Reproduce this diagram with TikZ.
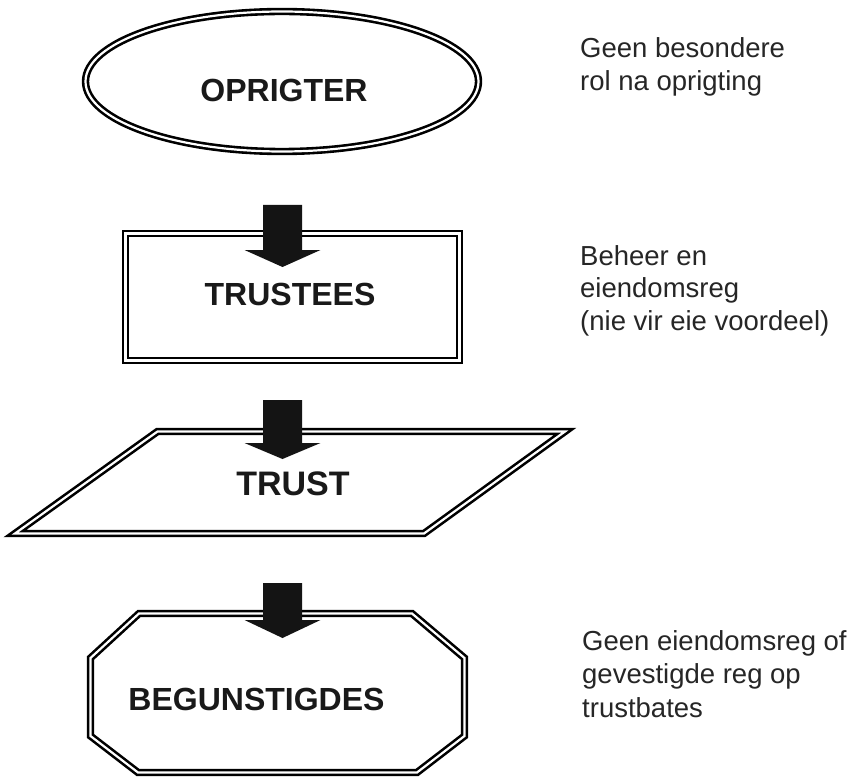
\documentclass[tikz,border=0pt]{standalone}
\usepackage{fontspec}
\setmainfont{Liberation Sans}
\begin{document}
\begin{tikzpicture}[x=1pt,y=-1pt,
  rim/.style={draw=black, line width=2.6pt, double=white, double distance=2.2pt, line join=miter},
  label/.style={font=\bfseries\fontsize{32}{38}\selectfont, text=black!90, inner sep=0pt, anchor=base},
  note/.style={font=\fontsize{27.5}{33}\selectfont, text=black!85, inner sep=0pt, anchor=base west},
  pics/blockarrow/.style n args={2}{code={
    \fill[black!92] (-19.5,0) -- (19.5,0) -- (19.5,#1) -- (38,#1) -- (0,#2)
      -- (-38,#1) -- (-19.5,#1) -- cycle;}}]
\useasboundingbox[fill=white] (0,0) rectangle (851,778);

% founder: ellipse
\draw[rim] (282,81.5) ellipse [x radius=196.5, y radius=70];
\node[label] (oprigter) at (284,102) {OPRIGTER};

% trustees: rectangle
\draw[rim] (125.5,233.5) rectangle (459.5,360.5);
\node[label] (trustees) at (290,305) {TRUSTEES};

% trust: parallelogram
\coordinate (pbl) at (15,533.5);
\coordinate (ptl) at (157.5,431.5);
\coordinate (ptr) at (565,431.5);
\coordinate (pbr) at (424,533.5);
\draw[rim] (pbl) -- (ptl) -- (ptr) -- (pbr) -- cycle;
\node[label, font=\bfseries\fontsize{34}{40}\selectfont] (trust) at (293,495) {TRUST};

% beneficiaries: octagon
\draw[rim] (139,613.5) -- (412,613.5) -- (464.5,658) -- (464.5,736) -- (417,772.5)
  -- (138,772.5) -- (90.5,736) -- (90.5,658) -- cycle;
\node[label] (begunstigdes) at (256.5,710) {BEGUNSTIGDES};

% block arrows between the levels
\coordinate (a1) at (282.5,205);
\coordinate (a2) at (282.5,400);
\coordinate (a3) at (282.5,583);
\pic at (a1) {blockarrow={45}{62}};
\pic at (a2) {blockarrow={43}{59}};
\pic at (a3) {blockarrow={37}{55}};

% side notes
\node[note] (n1a) at (580,57.5) {Geen besondere};
\node[note] (n1b) at (580,90.5) {rol na oprigting};
\node[note] (n2a) at (580,265.5) {Beheer en};
\node[note] (n2b) at (580,297.5) {eiendomsreg};
\node[note] (n2c) at (580,330) {(nie vir eie voordeel)};
\node[note] (n3a) at (582,650) {Geen eiendomsreg of};
\node[note] (n3b) at (582,683) {gevestigde reg op};
\node[note] (n3c) at (582,717) {trustbates};
\end{tikzpicture}
\end{document}
